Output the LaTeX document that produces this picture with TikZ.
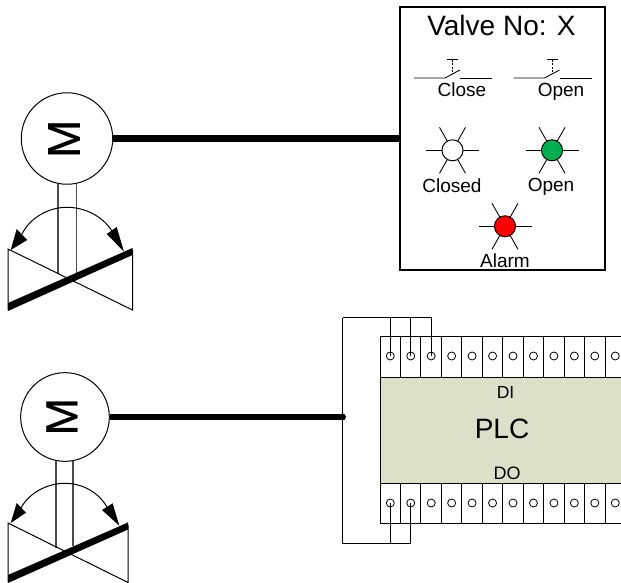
\documentclass[tikz,border=0pt]{standalone}
\usepackage{fontspec}
\setmainfont{Liberation Sans}
\newfontfamily\mfont[FakeBold=0.6]{Liberation Sans}
\newcommand{\fpx}[1]{\pgfmathsetmacro{\fszv}{#1*0.75}\fontsize{\fszv pt}{\fszv pt}\selectfont}
\definecolor{plcgreen}{HTML}{DDE0C9}
\definecolor{lampgreen}{HTML}{00B050}
\tikzset{
  thin wire/.style={draw=black,line width=0.75pt},
  fine/.style={draw=black,line width=0.65pt},
  shaft/.style={draw=black!70,line width=0.8pt},
  power/.style={draw=black,line width=5.2pt},
  motor/.style={circle,draw=black,line width=0.75pt,fill=white,minimum size=#1,inner sep=0pt},
  lamp/.style={circle,draw=black,line width=0.75pt,minimum size=15.8pt,inner sep=0pt},
  terminal/.style={circle,draw=black,line width=0.6pt,fill=none,minimum size=6pt,inner sep=0pt},
  txt/.style={inner sep=0pt,text=black,anchor=base},
  mtxt/.style={inner sep=0pt,text=black,rotate=90,font=\mfont},
}
\begin{document}
\begin{tikzpicture}[x=0.75pt,y=-0.75pt]
\useasboundingbox (0,0) rectangle (621,582);
\clip (0,0) rectangle (621,582);
% --- top valve
\draw[shaft] (58,184) -- (58,273);
\draw[shaft] (76.5,184) -- (76.5,273);
\draw[thin wire,line join=miter] (8,310) -- (8,249) -- (132.5,310) -- (132.5,250);
\fill (8,303) -- (8,311) -- (132.5,255) -- (132.5,248) -- cycle;
\draw[thin wire] (22,234) .. controls (30,218) and (48,207.3) .. (67,207.3) .. controls (86,207.3) and (103,217) .. (112,231);
\fill (10.7,250) -- (16.7,229) -- (27.3,240) -- cycle;
\fill (124,251.7) -- (106.7,234) -- (116.7,227) -- cycle;
\node[motor=68.6pt] (m1) at (67,138.5) {};
\node[mtxt] (m1t) at (64,138.8) {\fpx{46}M};
% --- bottom valve
\draw[shaft] (56,461) -- (56,548);
\draw[shaft] (73,461) -- (73,546);
\draw[thin wire,line join=miter] (8,582) -- (8,523) -- (128,582.5) -- (128,525);
\fill (8,575) -- (8,583) -- (128,529.5) -- (128,522.5) -- cycle;
\draw[thin wire] (21,508) .. controls (29,493) and (47,483.3) .. (65,483.3) .. controls (83,483.3) and (99,493) .. (107,507);
\fill (10.7,523) -- (16.7,503) -- (26,512.7) -- cycle;
\fill (119.3,525.7) -- (102,510) -- (112.7,503.3) -- cycle;
\node[motor=66.5pt] (m2) at (65,417) {};
\node[mtxt] (m2t) at (61.8,416.7) {\fpx{45}M};
% --- panel
\node[draw=black,line width=1.2pt,fill=white,minimum width=153.75pt,minimum height=197.25pt,inner sep=0pt] (panel) at (502.5,138.5) {};
\draw[power] (m1.east) -- (panel.west);
\node[txt] (ptitle) at (501.5,35) {\fpx{28}Valve No: X};
% switches
\foreach \dx in {0,99.5}{
    \draw[fine] (414+\dx,78) -- (445+\dx,78) -- (460+\dx,70);
    \draw[fine] (460+\dx,78) -- (492+\dx,78);
    \draw[fine] (447+\dx,59.5) -- (458+\dx,59.5);
    \draw[line width=0.6pt,dash pattern=on 1.5pt off 1pt] (452.5+\dx,60) -- (452.5+\dx,74);
}
\node[txt] (lclose) at (462,96) {\fpx{19}Close};
\node[txt] (lopen) at (561,96) {\fpx{19}Open};
% lamps
\foreach \cx/\cy/\col/\nm in {452.5/150.3/white/lc,552/150.3/lampgreen/lo,505/226.3/red/la}{
  \draw[fine] (\cx-26.5,\cy) -- (\cx+26.5,\cy);
  \draw[fine] (\cx-13,\cy-23) -- (\cx+13,\cy+23);
  \draw[fine] (\cx+13,\cy-23) -- (\cx-13,\cy+23);
  \node[lamp,fill=\col] (\nm) at (\cx,\cy) {};
}
\node[txt] (tclosed) at (452,192.3) {\fpx{19}Closed};
\node[txt] (topen) at (551,191.8) {\fpx{19}Open};
\node[txt] (talarm) at (505,267.7) {\fpx{19}Alarm};
% --- PLC
\fill[plcgreen] (380,377) rectangle (621,483);
\draw[thin wire] (621,336) -- (380,336) -- (380,523.5) -- (621,523.5);
\draw[thin wire] (380,377) -- (621,377);
\draw[thin wire] (380,483) -- (621,483);
\foreach \i in {1,...,12}{
  \pgfmathsetmacro{\xl}{380+(\i-1)*20.45}
  \pgfmathsetmacro{\xc}{\xl+10.3}
  \draw[fine] (\xl,336) -- (\xl,377);
  \draw[fine] (\xl,483) -- (\xl,523.5);
  \node[terminal] (t\i) at (\xc,356) {};
  \node[terminal] (b\i) at (\xc,503) {};
}
\node[txt] (di) at (505.5,398.3) {\fpx{17.5}DI};
\node[txt] (plc) at (502,438) {\fpx{28}PLC};
\node[txt] (dout) at (507,479.3) {\fpx{18}DO};
% --- wiring
\coordinate (jn) at (342.5,417);
\coordinate (wtl) at (342.5,317.5);
\coordinate (wbl) at (342.5,543);
\draw[thin wire] (wtl) -- (wbl) -- (b2.center |- wbl) -- (b2.center);
\draw[thin wire] (wtl) -- (t3.center |- wtl) -- (t3.center);
\draw[thin wire] (t1.center |- wtl) -- (t1.center);
\draw[thin wire] (t2.center |- wtl) -- (t2.center);
\draw[thin wire] (b1.center |- wbl) -- (b1.center);
\draw[power] (m2.east) -- (jn);
\fill (jn) circle[radius=2.6pt];
\end{tikzpicture}
\end{document}
